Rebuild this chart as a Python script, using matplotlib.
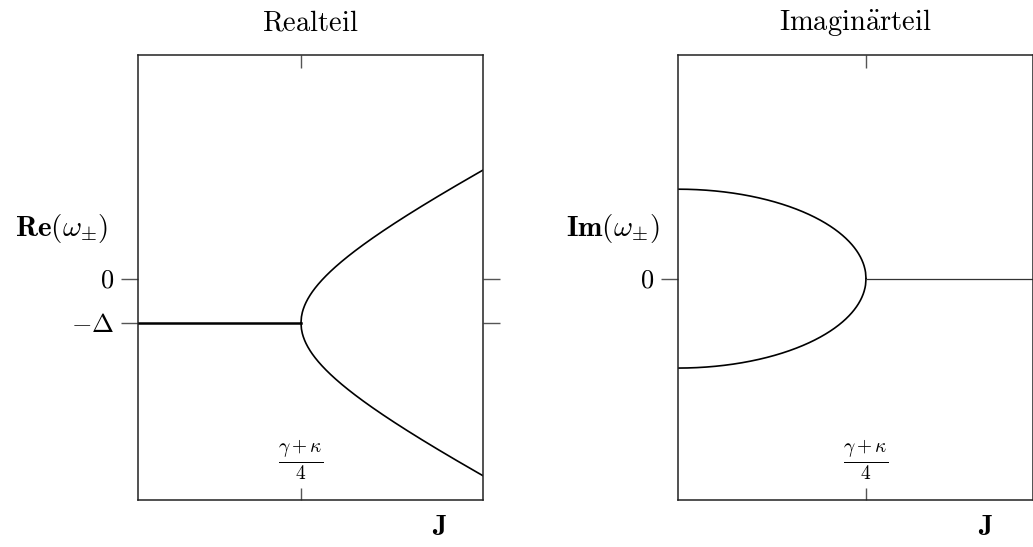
import numpy as np
import matplotlib.pyplot as plt

plt.rcParams['mathtext.fontset'] = 'cm'
plt.rcParams['font.family'] = 'serif'
plt.rcParams['font.serif'] = ['cmr10', 'DejaVu Serif']
plt.rcParams['axes.formatter.use_mathtext'] = True

# parameters (J in units of the branch point (gamma+kappa)/4)
J0 = 1.0
delta = 1.0
re_scale = 1.85
im_scale = 2.02
J_max_re = 2.117
J_max_im = 1.888
y_lim = (-5.0, 5.05)

titles = [r'$\mathrm{Realteil}$', r'$\mathrm{Imagin\ddot{a}rteil}$']
ylabels = [r'$\mathbf{Re}(\omega_{\pm})$', r'$\mathbf{Im}(\omega_{\pm})$']
xtick_label = r'$\frac{\gamma+\kappa}{4}$'

fig = plt.figure(figsize=(10.33, 5.47), dpi=100)
ax1 = fig.add_axes([0.1336, 0.0859, 0.334, 0.8135])
ax2 = fig.add_axes([0.6563, 0.0859, 0.3437, 0.8135])

# Realteil
J_a = np.linspace(0, J0, 50)
J_b = np.linspace(J0, J_max_re, 400)
root = np.sqrt(J_b**2 - J0**2)
ax1.plot(J_a, -delta * np.ones_like(J_a), color='black', lw=1.8)
ax1.plot(J_b, -delta + re_scale * root, color='black', lw=1.2)
ax1.plot(J_b, -delta - re_scale * root, color='black', lw=1.2)
ax1.set_xlim(0, J_max_re)
ax1.set_yticks([-delta, 0])
ax1.set_yticklabels([r'$-\Delta$', r'$0$'])

# Imaginaerteil
J_c = np.linspace(0, J0, 400)
J_d = np.linspace(J0, J_max_im, 50)
root2 = np.sqrt(J0**2 - J_c**2)
ax2.plot(J_c, im_scale * root2, color='black', lw=1.2)
ax2.plot(J_c, -im_scale * root2, color='black', lw=1.2)
ax2.plot(J_d, np.zeros_like(J_d), color='#333333', lw=0.9)
ax2.set_xlim(0, J_max_im)
ax2.set_yticks([0])
ax2.set_yticklabels([r'$0$'])

label_x = [-0.087, -0.051]
for i, ax in enumerate([ax1, ax2]):
    ax.set_ylim(*y_lim)
    ax.set_xticks([J0])
    ax.set_xticklabels([])
    ax.tick_params(axis='x', direction='in', length=9, top=True, bottom=True,
                   color='#555555', width=1)
    ax.tick_params(axis='y', direction='out', length=12, left=True, right=True,
                   color='#555555', width=1, labelsize=19, pad=5)
    for s in ax.spines.values():
        s.set_linewidth(1.1)
        s.set_color('#222222')
    ax.set_title(titles[i], fontsize=20.5, pad=18)
    ax.text(label_x[i], 0.611, ylabels[i], transform=ax.transAxes, fontsize=21,
            ha='right', va='center')
    ax.text(J0, y_lim[0] + 0.9, xtick_label, fontsize=20,
            ha='center', va='center')

ax1.text(0.875, -0.062, r'$\mathbf{J}$', transform=ax1.transAxes, fontsize=20,
         ha='center', va='center')
ax2.text(0.865, -0.062, r'$\mathbf{J}$', transform=ax2.transAxes, fontsize=20,
         ha='center', va='center')

fig.savefig('out.png', dpi=100)
